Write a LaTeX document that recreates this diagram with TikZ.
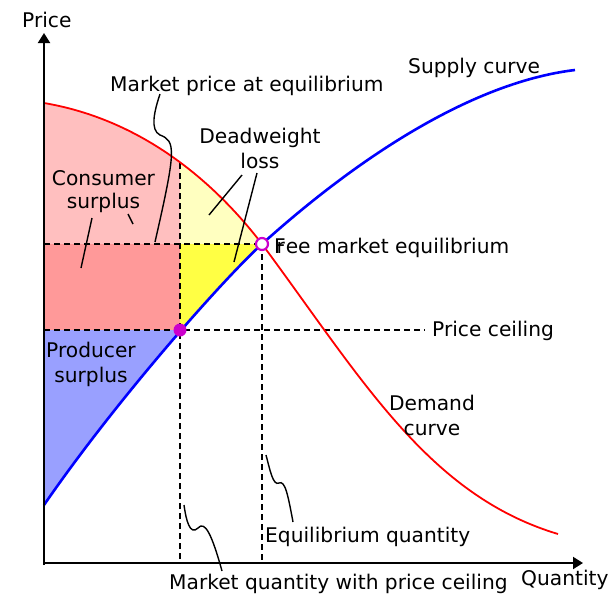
\documentclass[tikz,border=0pt]{standalone}
\usepackage{fontspec}
\setmainfont{DejaVu Sans}
\usetikzlibrary{arrows.meta}
\definecolor{cspale}{RGB}{255,191,191}
\definecolor{csdark}{RGB}{255,153,153}
\definecolor{dwpale}{RGB}{255,255,192}
\definecolor{dwyellow}{RGB}{255,255,68}
\definecolor{psblue}{RGB}{153,160,255}
\definecolor{ptmag}{RGB}{204,0,204}
\tikzset{
  lbl/.style={inner sep=0pt, font=\fontsize{20.2pt}{24pt}\selectfont, anchor=base west},
  lblc/.style={lbl, anchor=base},
  guide/.style={draw=black, line width=1.5pt, dash pattern=on 6pt off 4pt},
  leader/.style={draw=black, line width=1.4pt},
  axis/.style={draw=black, line width=2pt, -{Triangle[length=10pt,width=12pt]}},
  demandline/.style={draw=red, line width=1.8pt},
  supplyline/.style={draw=blue, line width=2.6pt},
}
\begin{document}
\begin{tikzpicture}[x=1pt,y=-1pt]
\useasboundingbox (0,0) rectangle (612,595);
% coordinates
\coordinate (O) at (44,563);
\coordinate (ytip) at (44,33);
\coordinate (xtip) at (583,563);
\coordinate (eq) at (262,244);
\coordinate (pc) at (180,330);
% fills under demand
\begin{scope}
\clip (44,103) .. controls (144,120) and (216,184) .. (262,244)
      .. controls (362,379) and (428,495) .. (558,534) -- (558,600) -- (44,600) -- cycle;
\fill[cspale] (44,0) rectangle (180,244);
\fill[dwpale] (180,0) rectangle (262,244);
\end{scope}
\fill[csdark] (44,244) rectangle (180,330);
% fills above supply
\begin{scope}
\clip (44,505) .. controls (119,396) and (227,275.5) .. (262,244)
      .. controls (362,154) and (475,82) .. (575,70) -- (575,0) -- (44,0) -- cycle;
\fill[dwyellow] (180,244) rectangle (262,330);
\fill[psblue] (44,330) rectangle (180,600);
\end{scope}
% guides
\coordinate (pcend) at (425,330);
\coordinate (dtop) at (180,163);
\coordinate (q1) at (180,563);
\coordinate (q2) at (262,563);
\coordinate (p1) at (44,244);
\coordinate (p2) at (44,330);
\draw[guide] (p1) -- (eq);
\draw[guide] (p2) -- (pcend);
\draw[guide] (dtop) -- (q1);
\draw[guide] (eq) -- (q2);
% curves
\draw[demandline] (44,103) .. controls (144,120) and (216,184) .. (eq)
      .. controls (362,379) and (428,495) .. (558,534);
\draw[supplyline] (44,505) .. controls (119,396) and (227,275.5) .. (eq)
      .. controls (362,154) and (475,82) .. (575,70);
% axes
\draw[axis] (44,565) -- (ytip);
\draw[axis] (43,563) -- (xtip);
% points
\fill[ptmag] (pc) circle (6.5pt);
\draw[ptmag, fill=white, line width=2.2pt] (eq) circle (6pt);
% labels
\node[lbl] (price) at (22,27) {Price};
\node[lbl] (qty) at (521,585) {Quantity};
\node[lbl] (mpe) at (110,91) {Market price at equilibrium};
\node[lbl] (supply) at (408,73) {Supply curve};
\node[lblc] (dw1) at (260,143) {Deadweight};
\node[lblc] (dw2) at (260,168) {loss};
\node[lblc] (cs1) at (103.5,185) {Consumer};
\node[lblc] (cs2) at (103.5,208) {surplus};
\node[lbl] (fme) at (274,253) {F\kern-0.46em r\kern0.05em ee market equilibrium};
\node[lbl] (ceil) at (432,336) {Price ceiling};
\node[lblc] (ps1) at (91,357) {Producer};
\node[lblc] (ps2) at (91,382) {surplus};
\node[lblc] (dc1) at (432,410) {Demand};
\node[lblc] (dc2) at (432,435) {curve};
\node[lbl] (eqq) at (265,542) {Equilibrium quantity};
\node[lbl] (mqc) at (169,589) {Market quantity with price ceiling};
% leaders
\coordinate (l1a) at (160,94);
\coordinate (l1b) at (155,242);
\draw[leader] (l1a) .. controls (154,112) and (150,130) .. (160,135)
      .. controls (176,141) and (176,150) .. (l1b);
\coordinate (l2a) at (92,218);
\coordinate (l2b) at (81,268);
\draw[leader] (l2a) -- (l2b);
\coordinate (l3a) at (128,214);
\coordinate (l3b) at (133,224);
\draw[leader] (l3a) -- (l3b);
\coordinate (l4a) at (242,175);
\coordinate (l4b) at (209,215);
\draw[leader] (l4a) -- (l4b);
\coordinate (l5a) at (257,173);
\coordinate (l5b) at (234,262);
\draw[leader] (l5a) -- (l5b);
\coordinate (l6a) at (266,455);
\coordinate (l6b) at (293,522);
\draw[leader] (l6a) .. controls (270,470) and (273,486) .. (279,483)
      .. controls (285,480) and (288,495) .. (l6b);
\coordinate (l7a) at (184,505);
\coordinate (l7b) at (222,571);
\draw[leader] (l7a) .. controls (186,520) and (190,536) .. (198,528)
      .. controls (205,520) and (212,535) .. (l7b);
\end{tikzpicture}
\end{document}
